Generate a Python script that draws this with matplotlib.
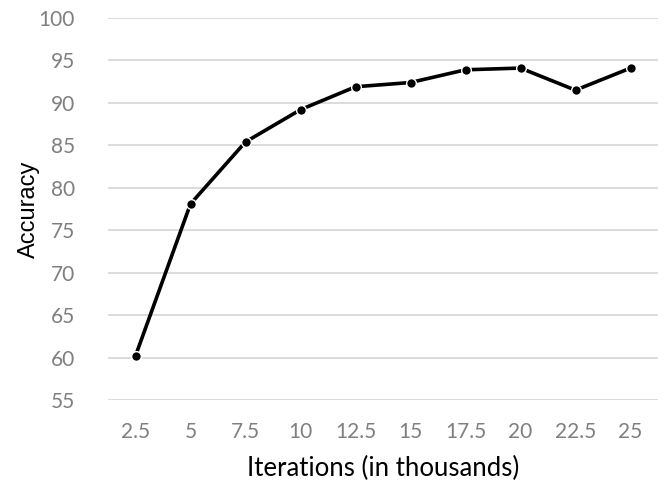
import matplotlib
matplotlib.use("Agg")
import matplotlib.pyplot as plt

iterations = ["2.5", "5", "7.5", "10", "12.5", "15", "17.5", "20", "22.5", "25"]
accuracy = [60.2, 78.1, 85.4, 89.2, 91.9, 92.4, 93.9, 94.1, 91.5, 94.1]
yticks = [55, 60, 65, 70, 75, 80, 85, 90, 95, 100]

plt.rcParams['font.family'] = ['Lato', 'DejaVu Sans']

fig = plt.figure(figsize=(6.66, 4.97), dpi=100)
ax = fig.add_axes([108/666, 1-400/497, 550/666, 382/497])

x = list(range(len(iterations)))
ax.plot(x, accuracy, color='black', lw=2.6, marker='o', markersize=7,
        markerfacecolor='black', markeredgecolor='white', markeredgewidth=1.0,
        zorder=3, solid_capstyle='round')

ax.set_ylim(55, 100)
ax.set_xlim(-0.5, len(iterations) - 0.5)
ax.set_yticks(yticks)
ax.set_xticks(x)
ax.set_xticklabels(iterations)
ax.yaxis.grid(True, color='#d9d9d9', lw=1.3)
ax.set_axisbelow(True)
for s in ax.spines.values():
    s.set_visible(False)
ax.tick_params(length=0, labelsize=15, labelcolor='#7f7f7f')
ax.tick_params(axis='x', pad=16)
ax.tick_params(axis='y', pad=24)
ax.set_xlabel("Iterations (in thousands)", fontsize=18.5, color='black', labelpad=10)
ax.set_ylabel("Accuracy", fontsize=17, color='black',
              family=['Liberation Sans', 'DejaVu Sans'])
ax.yaxis.set_label_coords((40 - 108) / 550, 0.5)

fig.savefig("out.png", dpi=100)
